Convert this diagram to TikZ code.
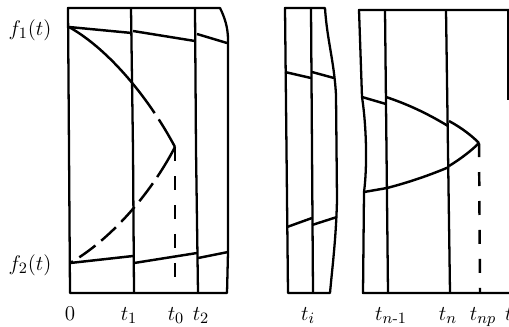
\documentclass[tikz,border=0pt]{standalone}
\usepackage{amsmath}
\usepackage{tikz}
\usetikzlibrary{positioning,calc}

\begin{document}
\begin{tikzpicture}[
  x=0.02cm, y=-0.02cm,
  font=\fontsize{12.5}{14}\selectfont,
  frame/.style={line width=1.3pt, line join=round},
  front/.style={line width=1.4pt},
  gapline/.style={line width=1.4pt, dash pattern=on 2.45cm off 0.15cm on 3cm},
  longdash/.style={line width=1.4pt, dash pattern=on 0.7cm off 0.15cm on 0.45cm off 0.15cm on 0.4cm off 0.15cm on 0.4cm off 0.15cm on 0.4cm off 0.15cm on 0.4cm off 0.15cm},
  drop/.style={line width=1.4pt, dash pattern=on 0.28cm off 0.3cm},
  tlabel/.style={anchor=base, inner sep=1pt},
]
\useasboundingbox (0,0) rectangle (509,326);

% first block: 0 .. t2
\draw[frame] (68,8) -- (220,8) .. controls (225,18) and (228,28) .. (228,40)
  -- (228,252) -- (227,293) -- (70,293) -- cycle;
\draw[frame] (131,8) -- (133,150) -- (134,293);
\draw[frame] (195,8) -- (196,150) -- (198,293);

\coordinate (f1) at (69,27);
\coordinate (f2) at (70,263);
\coordinate (p0) at (175,147);

\draw[front] (f1) -- (132,33) (133,31) -- (195,41) (197,34) -- (227,43);
\draw[front] (f2) -- (133,256) (134,263) -- (197,253) (198,258) -- (228,252);

\draw[gapline] (f1) .. controls (110,50) and (150,100) .. (p0);
\draw[longdash] (p0) .. controls (150,195) and (110,240) .. (f2);
\draw[drop] (p0) -- (175,293);

% middle block: t_i
\draw[frame] (285,8) -- (325,8) .. controls (327,40) and (334,60) .. (336,95)
  -- (337,200) .. controls (336,240) and (332,270) .. (330,293) -- (288,293) -- cycle;
\draw[frame] (311,8) -- (313,293);
\draw[front] (285,72) -- (311,78) (312,72) -- (334,78);
\draw[front] (287,227) -- (312,218) (312,225) -- (337,217);

% last block: t_{n-1} .. t_np
\draw[frame] (509,10) -- (359,10) -- (362,97) .. controls (367,130) and (367,170) .. (364,192)
  -- (363,293) -- (509,293);
\draw[frame] (385,10) -- (388,293);
\draw[frame] (446,10) -- (450,293);
\draw[frame] (508,10) -- (508,100);

\coordinate (pn) at (479,143);
\draw[front] (362,97) -- (386,104);
\draw[front] (386,97) .. controls (410,105) and (430,115) .. (448,126);
\draw[front] (449,121) .. controls (462,128) and (472,136) .. (pn);
\draw[front] (364,192) -- (387,188);
\draw[front] (387,188) .. controls (410,182) and (430,175) .. (449,167);
\draw[front] (449,166) .. controls (462,158) and (472,150) .. (pn);
\draw[drop] (pn) -- (480,293);

% labels
\node (lf1) at (30,30) {$f_1(t)$};
\node (lf2) at (30,265) {$f_2(t)$};
\node[tlabel] (l0) at (70,320) {$0$};
\node[tlabel] (lt1) at (129,320) {$t_1$};
\node[tlabel] (lt0) at (176,320) {$t_0$};
\node[tlabel] (lt2) at (201,320) {$t_2$};
\node[tlabel] (lti) at (308,320) {$t_i$};
\node[tlabel] (ltn1) at (391,320) {$t_{n\text{-}1}$};
\node[tlabel] (ltn) at (448,320) {$t_n$};
\node[tlabel] (ltnp) at (483,320) {$t_{np}$};
\node[tlabel, anchor=base west] (lcut) at (503,320) {$t$};
\end{tikzpicture}
\end{document}
